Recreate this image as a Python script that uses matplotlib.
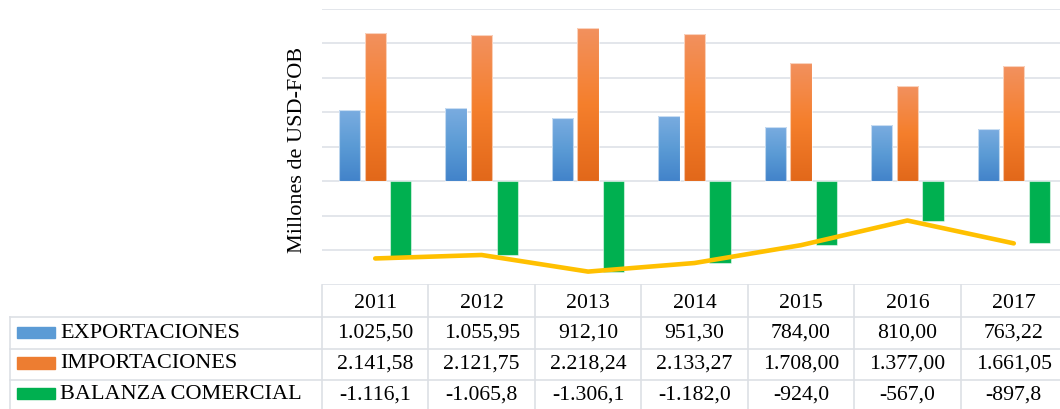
import numpy as np
import matplotlib.pyplot as plt
from matplotlib.colors import LinearSegmentedColormap

plt.rcParams['font.family'] = ['Liberation Serif', 'DejaVu Serif']

# datos (millones de USD-FOB)
anios = ['2011', '2012', '2013', '2014', '2015', '2016', '2017']
exportaciones = [1025.50, 1055.95, 912.10, 951.30, 784.00, 810.00, 763.22]
importaciones = [2141.58, 2121.75, 2218.24, 2133.27, 1708.00, 1377.00, 1661.05]
balanza = [-1116.1, -1065.8, -1306.1, -1182.0, -924.0, -567.0, -897.8]

series = ['EXPORTACIONES', 'IMPORTACIONES', 'BALANZA COMERCIAL']
colores = ['#5B9BD5', '#ED7D31', '#00B050']


def formato(v, dec):
    # formato español: punto para miles, coma para decimales
    s = f'{v:,.{dec}f}'
    return s.replace(',', '#').replace('.', ',').replace('#', '.')


def barras_degradado(ax, barras, cmap):
    grad = np.linspace(1, 0, 256).reshape(-1, 1)
    for b in barras:
        x, y = b.get_xy()
        w, h = b.get_width(), b.get_height()
        im = ax.imshow(grad, cmap=cmap, aspect='auto', origin='upper',
                       extent=[x, x + w, y, y + h], zorder=2)
        im.set_clip_path(b)
        b.set_facecolor('none')


fig = plt.figure(figsize=(10.6, 4.1), dpi=100)
# el area del grafico sobrepasa un poco el borde derecho, como en el original
ax = fig.add_axes([322 / 1060, (410 - 286) / 410, 745 / 1060, 276.5 / 410])

x = np.arange(len(anios))
ancho = 0.2
paso = 0.24

b1 = ax.bar(x - paso, exportaciones, ancho, edgecolor=(1, 1, 1, 0.6), linewidth=0.8, zorder=3)
b2 = ax.bar(x, importaciones, ancho, edgecolor=(1, 1, 1, 0.6), linewidth=0.8, zorder=3)
ax.bar(x + paso, balanza, ancho, color=colores[2], edgecolor=(1, 1, 1, 0.5), linewidth=0.8, zorder=3)

azul = LinearSegmentedColormap.from_list('azul', ['#4283CA', '#5B9BD5', '#7AACE0'])
naranja = LinearSegmentedColormap.from_list('naranja', ['#E2681A', '#F57F2C', '#F2915F'])
barras_degradado(ax, b1, azul)
barras_degradado(ax, b2, naranja)

ax.plot(x, balanza, color='#FFC000', lw=3.3, zorder=4, solid_capstyle='round')

ax.set_xlim(-0.5, len(anios) - 0.5)
ax.set_ylim(-1500, 2500)
ax.set_yticks(range(-1500, 2501, 500))
ax.set_xticks([])
ax.yaxis.grid(True, color='#E3E6EB', lw=1.4, zorder=0)
ax.set_axisbelow(True)
ax.tick_params(left=False, labelleft=False)
for s in ax.spines.values():
    s.set_visible(False)

fig.text(297 / 1060, (410 - 150) / 410, 'Millones de USD-FOB', rotation=90,
         ha='center', va='center', fontsize=16)

# tabla de datos
linea = dict(color='#DDE0E5', lw=1.2, clip_on=False, zorder=1)
trans = ax.get_xaxis_transform()
for k in range(len(anios) + 1):
    ax.plot([k - 0.5, k - 0.5], [0, -0.5], transform=trans, **linea)
x_izq = (10 - 322) / 745
for yf in [-0.1157, -0.2297, -0.3436]:
    ax.plot([x_izq, 1.0], [yf, yf], transform=ax.transAxes, **linea)
ax.plot([x_izq, x_izq], [-0.1157, -0.5], transform=ax.transAxes, **linea)

fs = 15.7
filas_y = [-0.1718, -0.282, -0.394]
for i, anio in enumerate(anios):
    ax.text(i, -0.0615, anio, transform=trans, ha='center', va='center', fontsize=fs)
    ax.text(i, filas_y[0], formato(exportaciones[i], 2), transform=trans, ha='center', va='center', fontsize=fs)
    ax.text(i, filas_y[1], formato(importaciones[i], 2), transform=trans, ha='center', va='center', fontsize=fs)
    ax.text(i, filas_y[2], formato(balanza[i], 1), transform=trans, ha='center', va='center', fontsize=fs)

for nombre, col, yf in zip(series, colores, filas_y):
    ax.add_patch(plt.Rectangle(((17 - 322) / 745, yf - 0.02), 38 / 745, 0.04,
                               transform=ax.transAxes, color=col, clip_on=False))
    ax.text((60 - 322) / 745, yf, nombre, transform=ax.transAxes, ha='left', va='center', fontsize=16)

fig.savefig('out.png', dpi=100)
